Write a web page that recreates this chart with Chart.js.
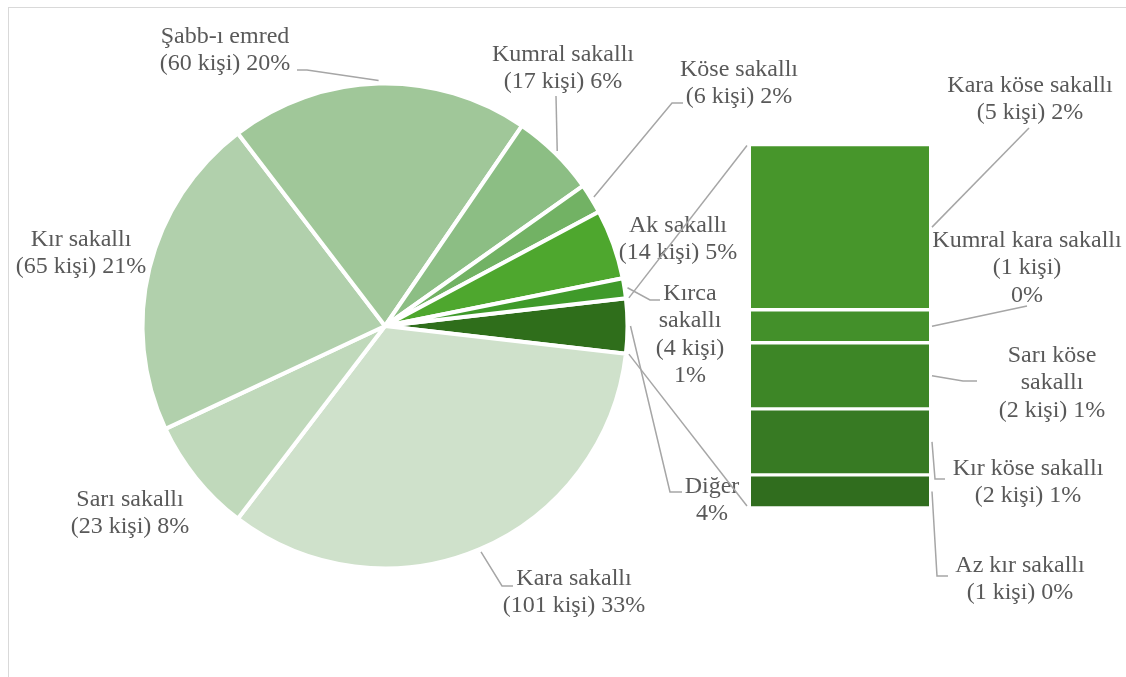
<!DOCTYPE html>
<html>
<head>
<meta charset="utf-8">
<script src="https://cdn.jsdelivr.net/npm/chart.js@4/dist/chart.umd.min.js"></script>
<style>
  body { margin: 0; background: #fff; }
  #wrap { position: relative; width: 1126px; height: 677px; overflow: hidden; }
  #frame { position: absolute; left: 8px; top: 7px; width: 1200px; height: 700px; border: 1px solid #d9d9d9; }
  canvas { position: absolute; left: 0; top: 0; }
  #barChart { pointer-events: none; }
</style>
</head>
<body>
<div id="wrap">
  <div id="frame"></div>
  <canvas id="pieChart" width="1126" height="677"></canvas>
  <canvas id="barChart" width="1126" height="677"></canvas>
</div>
<script>
// bar part ("Diğer" breakdown), bottom to top
const barLabels = ['Az kır sakallı', 'Kır köse sakallı', 'Sarı köse sakallı', 'Kumral kara sakallı', 'Kara köse sakallı'];
const barCounts = [1, 2, 2, 1, 5];
const barPercents = [0, 1, 1, 0, 2];
const barColors = ['#306d1e', '#377a23', '#3d8626', '#43902a', '#47962b'];

// pie part, clockwise starting with "Diğer" at 3 o'clock
const otherCount = barCounts.reduce((a, b) => a + b, 0);
const pieLabels = ['Diğer', 'Kara sakallı', 'Sarı sakallı', 'Kır sakallı', 'Şabb-ı emred', 'Kumral sakallı', 'Köse sakallı', 'Ak sakallı', 'Kırca sakallı'];
const pieCounts = [otherCount, 101, 23, 65, 60, 17, 6, 14, 4];
const piePercents = [4, 33, 8, 21, 20, 6, 2, 5, 1];
const pieColors = ['#2f6e1b', '#cfe1cb', '#c0d9bb', '#b1d0ac', '#a0c799', '#8cbe84', '#72b264', '#4ea72e', '#3f9a2a'];

const total = pieCounts.reduce((a, b) => a + b, 0);

const FONT = '24px "Liberation Serif", "Times New Roman", serif';
const TEXT = '#595959';
const LINE = '#a6a6a6';
const LH = 27.3;

// label placement: text centre x, first baseline y, leader bend points
const pieLabelPos = [
  { x: 712, y: 493, mode: 'pct', path: [[670, 492], [682, 492]] },
  { x: 574, y: 585, path: [[502, 586], [513, 586]] },
  { x: 130, y: 506 },
  { x: 81, y: 246 },
  { x: 225, y: 43, path: [[307, 70], [297, 70]] },
  { x: 563, y: 61, path: [[556, 96]] },
  { x: 739, y: 76, path: [[672, 103], [683, 103]] },
  { x: 678, y: 232 },
  { x: 690, y: 300, mode: 'words', path: [[650, 300], [660, 300]] }
];
const barLabelPos = [
  { x: 1020, y: 572, path: [[937, 576], [948, 576]] },
  { x: 1028, y: 475, path: [[935, 479], [945, 479]] },
  { x: 1052, y: 362, mode: 'sari', path: [[963, 381], [977, 381]] },
  { x: 1027, y: 247, mode: 'three', path: [[1027, 306]] },
  { x: 1030, y: 92, path: [[1029, 128]] }
];

function labelLines(name, n, p, mode) {
  const cnt = '(' + n + ' kişi)';
  const pct = p + '%';
  if (mode === 'pct') return [name, pct];
  if (mode === 'words') return name.split(' ').concat([cnt, pct]);
  if (mode === 'three') return [name, cnt, pct];
  if (mode === 'sari') {
    const w = name.split(' ');
    return [w.slice(0, 2).join(' '), w.slice(2).join(' '), cnt + ' ' + pct];
  }
  return [name, cnt + ' ' + pct];
}

function drawLeader(ctx, pts) {
  ctx.beginPath();
  ctx.moveTo(pts[0][0], pts[0][1]);
  for (let i = 1; i < pts.length; i++) ctx.lineTo(pts[i][0], pts[i][1]);
  ctx.strokeStyle = LINE;
  ctx.lineWidth = 1.5;
  ctx.stroke();
}

function drawText(ctx, lines, x, y) {
  ctx.font = FONT;
  ctx.fillStyle = TEXT;
  ctx.textAlign = 'center';
  ctx.textBaseline = 'alphabetic';
  lines.forEach((t, i) => ctx.fillText(t, x, y + i * LH));
}

const pieLabelPlugin = {
  id: 'pieLabels',
  afterDraw(chart) {
    const ctx = chart.ctx;
    const arcs = chart.getDatasetMeta(0).data;
    ctx.save();
    arcs.forEach((arc, i) => {
      const pos = pieLabelPos[i];
      const mid = (arc.startAngle + arc.endAngle) / 2;
      const r = arc.outerRadius + 3;
      if (pos.path) {
        drawLeader(ctx, [[arc.x + r * Math.cos(mid), arc.y + r * Math.sin(mid)]].concat(pos.path));
      }
      drawText(ctx, labelLines(pieLabels[i], pieCounts[i], piePercents[i], pos.mode), pos.x, pos.y);
    });
    ctx.restore();
  }
};

const pieChart = new Chart(document.getElementById('pieChart'), {
  type: 'pie',
  data: {
    labels: pieLabels,
    datasets: [{
      data: pieCounts,
      backgroundColor: pieColors,
      borderColor: '#ffffff',
      borderWidth: 4
    }]
  },
  options: {
    responsive: false,
    animation: false,
    events: [],
    rotation: 90 - (otherCount / total) * 180,
    radius: 242.5,
    layout: { padding: { left: 145, right: 501, top: 86, bottom: 111 } },
    plugins: { legend: { display: false }, tooltip: { enabled: false } }
  },
  plugins: [pieLabelPlugin]
});

const barLabelPlugin = {
  id: 'barLabels',
  afterDraw(chart) {
    const ctx = chart.ctx;
    ctx.save();
    // connectors from the "Diğer" slice to the bar
    const other = pieChart.getDatasetMeta(0).data[0];
    const r = other.outerRadius + 3;
    const topEl = chart.getDatasetMeta(barCounts.length - 1).data[0];
    const botEl = chart.getDatasetMeta(0).data[0];
    drawLeader(ctx, [
      [other.x + r * Math.cos(other.startAngle), other.y + r * Math.sin(other.startAngle)],
      [topEl.x - topEl.width / 2 - 4, topEl.y + 1]
    ]);
    drawLeader(ctx, [
      [other.x + r * Math.cos(other.endAngle), other.y + r * Math.sin(other.endAngle)],
      [botEl.x - botEl.width / 2 - 4, botEl.base - 2]
    ]);
    barCounts.forEach((n, i) => {
      const el = chart.getDatasetMeta(i).data[0];
      const pos = barLabelPos[i];
      drawLeader(ctx, [[el.x + el.width / 2 + 3, (el.y + el.base) / 2]].concat(pos.path));
      drawText(ctx, labelLines(barLabels[i], n, barPercents[i], pos.mode), pos.x, pos.y);
    });
    ctx.restore();
  }
};

new Chart(document.getElementById('barChart'), {
  type: 'bar',
  data: {
    labels: ['Diğer'],
    datasets: barLabels.map((name, i) => ({
      label: name,
      data: [barCounts[i]],
      backgroundColor: barColors[i],
      borderColor: '#ffffff',
      borderWidth: { top: 2, bottom: 2, left: 0, right: 0 },
      borderSkipped: false,
      barPercentage: 1,
      categoryPercentage: 1
    }))
  },
  options: {
    responsive: false,
    animation: false,
    events: [],
    layout: { padding: { left: 751, right: 197, top: 144.5, bottom: 169 } },
    scales: {
      x: { stacked: true, display: false },
      y: { stacked: true, display: false, min: 0, max: otherCount }
    },
    plugins: { legend: { display: false }, tooltip: { enabled: false } }
  },
  plugins: [barLabelPlugin]
});
</script>
</body>
</html>
